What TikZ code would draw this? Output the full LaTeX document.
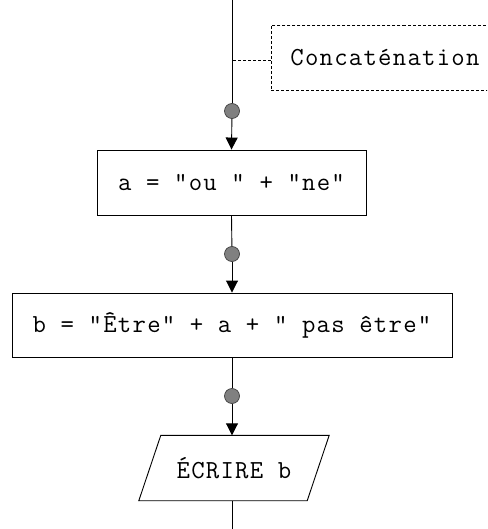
\documentclass[tikz,border=0pt]{standalone}
\usepackage{fontspec}
\setmonofont{Latin Modern Mono}[LetterSpace=4.8]
\usetikzlibrary{calc,arrows.meta}
\begin{document}
\begin{tikzpicture}[x=1pt,y=-1pt,
  txt/.style={font=\ttfamily\fontsize{26}{30}\selectfont},
  box/.style={draw, line width=0.9pt, inner sep=0pt, txt},
  flow/.style={line width=0.9pt, -{Triangle[length=12pt,width=12pt]}},
  plain/.style={line width=0.9pt},
  dot/.style={circle, draw=black!75, line width=0.7pt, fill=black!50, minimum size=15pt, inner sep=0pt},
  note/.style={draw, dash pattern=on 3pt off 2pt, line width=0.8pt}]
\useasboundingbox (0,0) rectangle (487,529);
\clip (0,0) rectangle (487,529);
\coordinate (top) at (232,0);
\coordinate (bot) at (232,529);
\node[note, txt, anchor=north west, minimum height=65pt, inner xsep=19pt, inner ysep=0pt] (c) at (271,25) {Concaténation};
\coordinate (cl) at ($(c.west)+(0,2.5)$);
\draw[note] (cl) -- (cl -| top);
\node[dot] (d1) at (232,111) {};
\node[box, minimum width=269pt, minimum height=65pt] (a) at (231.5,182.5) {a = "ou " + "ne"};
\node[dot] (d2) at (232,254) {};
\node[box, minimum width=440pt, minimum height=64pt] (b) at (232,325) {b = "Être" + a + " pas être"};
\node[dot] (d3) at (232,396) {};
\node[inner sep=0pt, minimum width=168pt, minimum height=65pt, txt] (w) at (234,468) {ÉCRIRE b};
\draw[plain] ($(w.north west)+(11,0)$) -- ($(w.north east)+(11,0)$) -- ($(w.south east)+(-11,0)$) -- ($(w.south west)+(-11,0)$) -- cycle;
\draw[plain] (top) -- (d1);
\draw[flow] (d1) -- (a.north);
\draw[plain] (a.south) -- (d2);
\draw[flow] (d2) -- (b.north);
\draw[plain] (b.south) -- (d3);
\draw[flow] (d3) -- (w.north -| top);
\draw[plain] (w.south -| top) -- (bot);
\end{tikzpicture}
\end{document}
